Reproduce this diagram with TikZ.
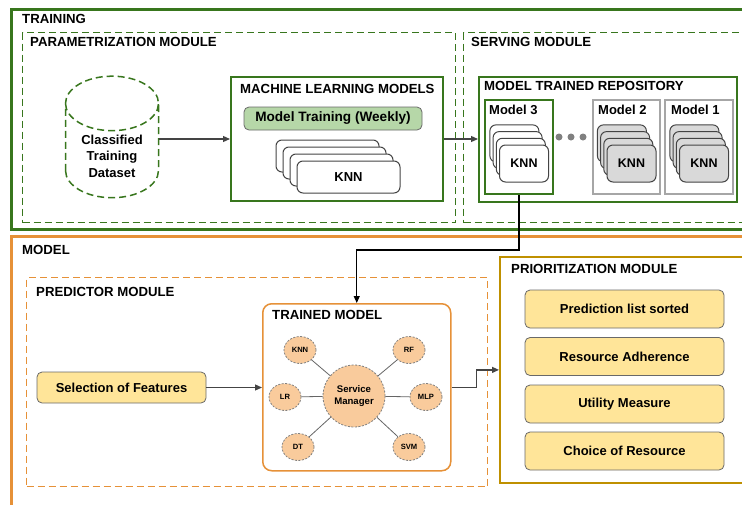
\documentclass[tikz,border=0pt]{standalone}
\usepackage{fontspec}
\setmainfont{Liberation Sans}
\usetikzlibrary{arrows.meta,positioning,shapes.geometric,calc}

\definecolor{trainGreen}{HTML}{38761D}
\definecolor{lightGreen}{HTML}{B6D7A8}
\definecolor{modelOrange}{HTML}{E69138}
\definecolor{lightOrange}{HTML}{F9CB9C}
\definecolor{lightYellow}{HTML}{FFE599}
\definecolor{darkYellow}{HTML}{BF9000}
\definecolor{lineGray}{HTML}{444444}

\begin{document}
\begin{tikzpicture}[
        x=1pt, y=-1pt,
        outerBox/.style={
            draw,
            line width=2.5pt,
            anchor=north west,
            inner sep=0pt
        },
        moduleBox/.style={
            draw,
            line width=1.3pt,
            dash pattern=on 7pt off 4pt,
            anchor=north west,
            inner sep=0pt
        },
        innerBox/.style={
            draw,
            line width=2pt,
            anchor=north west,
            inner sep=0pt,
            fill=white
        },
        titleText/.style={
            anchor=west,
            inner sep=0pt,
            font=\bfseries\fontsize{13.2}{16}\selectfont
        },
        stepText/.style={
            draw=lineGray!80,
            rounded corners=5pt,
            line width=0.8pt,
            inner sep=0pt,
            font=\bfseries\fontsize{13}{16}\selectfont
        },
        mlCard/.style={
            draw=lineGray,
            fill=white,
            rounded corners=6pt,
            line width=1pt,
            minimum width=103pt,
            minimum height=32pt,
            font=\bfseries\fontsize{13}{15}\selectfont
        },
        repoCard/.style={
            draw=lineGray,
            fill=#1,
            rounded corners=6pt,
            line width=1pt,
            minimum width=49pt,
            minimum height=37pt,
            font=\bfseries\fontsize{12.5}{15}\selectfont
        },
        algoNode/.style={
            ellipse,
            draw=gray,
            fill=lightOrange,
            dash pattern=on 2pt off 1.5pt,
            line width=0.8pt,
            minimum width=32pt,
            minimum height=27pt,
            inner sep=0pt,
            font=\bfseries\fontsize{7.6}{9}\selectfont
        },
        flowArrow/.style={
            -{Triangle[length=7pt,width=6pt]},
            draw=lineGray,
            line width=1.2pt
        }
    ]
        \useasboundingbox (0,0) rectangle (742,504);

        % Training part
        \node[outerBox, draw=trainGreen, minimum width=740pt, minimum height=220pt] (training) at (10,8) {};
        \node[titleText] (trainingTitle) at (22,19) {TRAINING};

        \node[moduleBox, draw=trainGreen, minimum width=433pt, minimum height=190pt] (param) at (22,32) {};
        \node[titleText] (paramTitle) at (30,42) {PARAMETRIZATION MODULE};

        \node[moduleBox, draw=trainGreen, minimum width=290pt, minimum height=190pt] (serving) at (463,32) {};
        \node[titleText] (servingTitle) at (471,42) {SERVING MODULE};

        \node[cylinder, shape border rotate=90, aspect=0.8, draw=trainGreen,
            line width=1.5pt, dash pattern=on 7pt off 4pt,
            minimum width=93pt, minimum height=97pt, align=center,
            font=\bfseries\fontsize{13}{16.5}\selectfont] (dataset) at (112,156)
            {Classified\\Training\\Dataset};

        \node[innerBox, draw=trainGreen, minimum width=212pt, minimum height=124pt] (mlBox) at (230,76) {};
        \node[titleText] (mlTitle) at (240,89) {MACHINE LEARNING MODELS};
        \node[stepText, fill=lightGreen, minimum width=178pt, minimum height=23pt,
            font=\bfseries\fontsize{13.6}{16}\selectfont] (weekly) at (333,118.5) {Model Training (Weekly)};
        \foreach \k in {3,2,1} {
            \node[mlCard] (mlCard\k) at ({348.5-7*\k},{177-7*\k}) {};
        }
        \node[mlCard] (mlCard0) at (348.5,177) {KNN};

        \node[innerBox, draw=trainGreen, minimum width=258pt, minimum height=125pt] (repo) at (478,76) {};
        \node[titleText] (repoTitle) at (484,86) {MODEL TRAINED REPOSITORY};

        \node[innerBox, draw=trainGreen, minimum width=68pt, minimum height=94pt] (model3) at (484,99) {};
        \node[innerBox, draw=gray!70, minimum width=67pt, minimum height=94pt] (model2) at (592,99) {};
        \node[innerBox, draw=gray!70, minimum width=68pt, minimum height=94pt] (model1) at (664,99) {};
        \node[titleText, font=\bfseries\fontsize{13}{15}\selectfont] (model3Title) at (489,110) {Model 3};
        \node[titleText, font=\bfseries\fontsize{13}{15}\selectfont] (model2Title) at (598,110) {Model 2};
        \node[titleText, font=\bfseries\fontsize{13}{15}\selectfont] (model1Title) at (671,110) {Model 1};

        \foreach \k in {3,2,1} {
            \node[repoCard=white] (mThree\k) at ({524-3.2*\k},{163.5-6.7*\k}) {};
            \node[repoCard=gray!30] (mTwo\k) at ({631.5-3.2*\k},{163.5-6.7*\k}) {};
            \node[repoCard=gray!30] (mOne\k) at ({704-3.2*\k},{163.5-6.7*\k}) {};
        }
        \node[repoCard=white] (mThree0) at (524,163.5) {KNN};
        \node[repoCard=gray!30] (mTwo0) at (631.5,163.5) {KNN};
        \node[repoCard=gray!30] (mOne0) at (704,163.5) {KNN};

        % Dots between models
        \foreach \x [count=\i] in {559,571,583} {
            \node[circle, fill=gray, inner sep=0pt, minimum size=7pt] (dot\i) at (\x,137) {};
        }

        % Model part
        \node[outerBox, draw=modelOrange, minimum width=740pt, minimum height=277pt] (model) at (10,235) {};
        \node[titleText] (modelTitle) at (22,250) {MODEL};

        \node[moduleBox, draw=modelOrange, minimum width=461pt, minimum height=209pt] (predictor) at (26,277) {};
        \node[titleText] (predictorTitle) at (36,292) {PREDICTOR MODULE};

        \node[stepText, fill=lightYellow, minimum width=169pt, minimum height=31pt] (features) at (121.5,387.5) {Selection of Features};

        \node[innerBox, draw=modelOrange, line width=1.5pt, rounded corners=9pt, minimum width=188pt, minimum height=167pt] (trained) at (262,303) {};
        \node[titleText] (trainedTitle) at (272,315) {TRAINED MODEL};

        \node[circle, draw=gray, fill=lightOrange, dash pattern=on 2pt off 1.5pt, line width=0.8pt,
            minimum size=62pt, inner sep=0pt, align=center,
            font=\bfseries\fontsize{9.6}{12}\selectfont] (manager) at (354,396) {Service\\Manager};
        \node[algoNode] (knn) at (300,350) {KNN};
        \node[algoNode] (lr) at (285,397) {LR};
        \node[algoNode] (dt) at (298,447) {DT};
        \node[algoNode] (rf) at (409,350) {RF};
        \node[algoNode] (mlp) at (426,397) {MLP};
        \node[algoNode] (svm) at (409,447) {SVM};
        \foreach \a in {knn,lr,dt,rf,mlp,svm} {
            \draw[gray!80!black, line width=0.8pt] (manager) -- (\a);
        }

        \node[outerBox, draw=darkYellow, line width=1.8pt, fill=white, minimum width=251pt, minimum height=226pt] (prio) at (499,256) {};
        \node[titleText] (prioTitle) at (511,269) {PRIORITIZATION MODULE};
        \node[stepText, fill=lightYellow, minimum width=199pt, minimum height=38pt] (sorted) at (624.5,309) {Prediction list sorted};
        \node[stepText, fill=lightYellow, minimum width=199pt, minimum height=38pt] (adherence) at (624.5,356.5) {Resource Adherence};
        \node[stepText, fill=lightYellow, minimum width=199pt, minimum height=38pt] (utility) at (624.5,404) {Utility Measure};
        \node[stepText, fill=lightYellow, minimum width=199pt, minimum height=38pt] (choice) at (624.5,451) {Choice of Resource};

        % Connectors
        \draw[flowArrow] (dataset.east |- mlBox.west) -- (mlBox.west);
        \draw[flowArrow] (mlBox.east) -- (mlBox.east -| repo.west);
        \draw[flowArrow, draw=black] (model3.south) -- ++(0,55) -| (trained.north);
        \draw[flowArrow] (features.east) -- (features.east -| trained.west);
        \draw[flowArrow] (trained.east) -- ++(25,0) |- (prio.west);

    \end{tikzpicture}
\end{document}
